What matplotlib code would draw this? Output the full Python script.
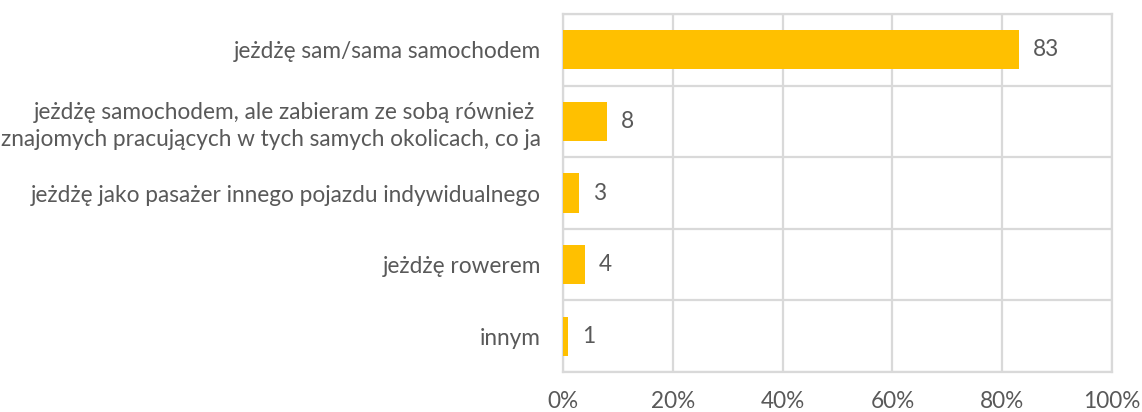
import matplotlib
matplotlib.use("Agg")
import matplotlib.pyplot as plt
from matplotlib.ticker import FuncFormatter, MultipleLocator

categories = [
    "jeżdżę sam/sama samochodem",
    "jeżdżę samochodem, ale zabieram ze sobą również \nznajomych pracujących w tych samych okolicach, co ja",
    "jeżdżę jako pasażer innego pojazdu indywidualnego",
    "jeżdżę rowerem",
    "innym",
]
values = [83, 8, 3, 4, 1]
xticks = [0, 20, 40, 60, 80, 100]

plt.rcParams['font.family'] = ['Lato', 'DejaVu Sans']
text_color = '#595959'
grid_color = '#d9d9d9'
bar_color = '#ffc000'
fs = 16.3

fig = plt.figure(figsize=(11.42, 4.12), dpi=100)
ax = fig.add_axes([563/1142, 1 - 372/412, (1112-563)/1142, (372-14)/412])

n = len(categories)
pos = list(range(n))
ax.barh(pos, values, height=0.55, color=bar_color, zorder=3)
ax.set_ylim(n - 0.5, -0.5)
ax.set_xlim(0, 100)

# horizontal category boundaries
for b in [i + 0.5 for i in range(-1, n)]:
    ax.axhline(b, color=grid_color, lw=1.6, zorder=1)
ax.xaxis.set_major_locator(MultipleLocator(20))
ax.grid(axis='x', color=grid_color, lw=1.6, zorder=1)
ax.set_axisbelow(True)
for s in ax.spines.values():
    s.set_color(grid_color)
    s.set_linewidth(1.6)

ax.set_yticks(pos)
ax.set_yticklabels(categories, fontsize=fs, color=text_color, linespacing=1.35)
ax.set_xticks(xticks)
ax.xaxis.set_major_formatter(FuncFormatter(lambda v, p: f"{int(v)}%"))
ax.tick_params(axis='x', length=0, pad=14, labelsize=fs, labelcolor=text_color)
ax.tick_params(axis='y', length=0, pad=16)

for p, v in zip(pos, values):
    ax.annotate(str(v), (v, p), xytext=(10, 0), textcoords='offset points',
                va='center', ha='left', fontsize=fs, color=text_color)

fig.savefig('out.png', dpi=100)
